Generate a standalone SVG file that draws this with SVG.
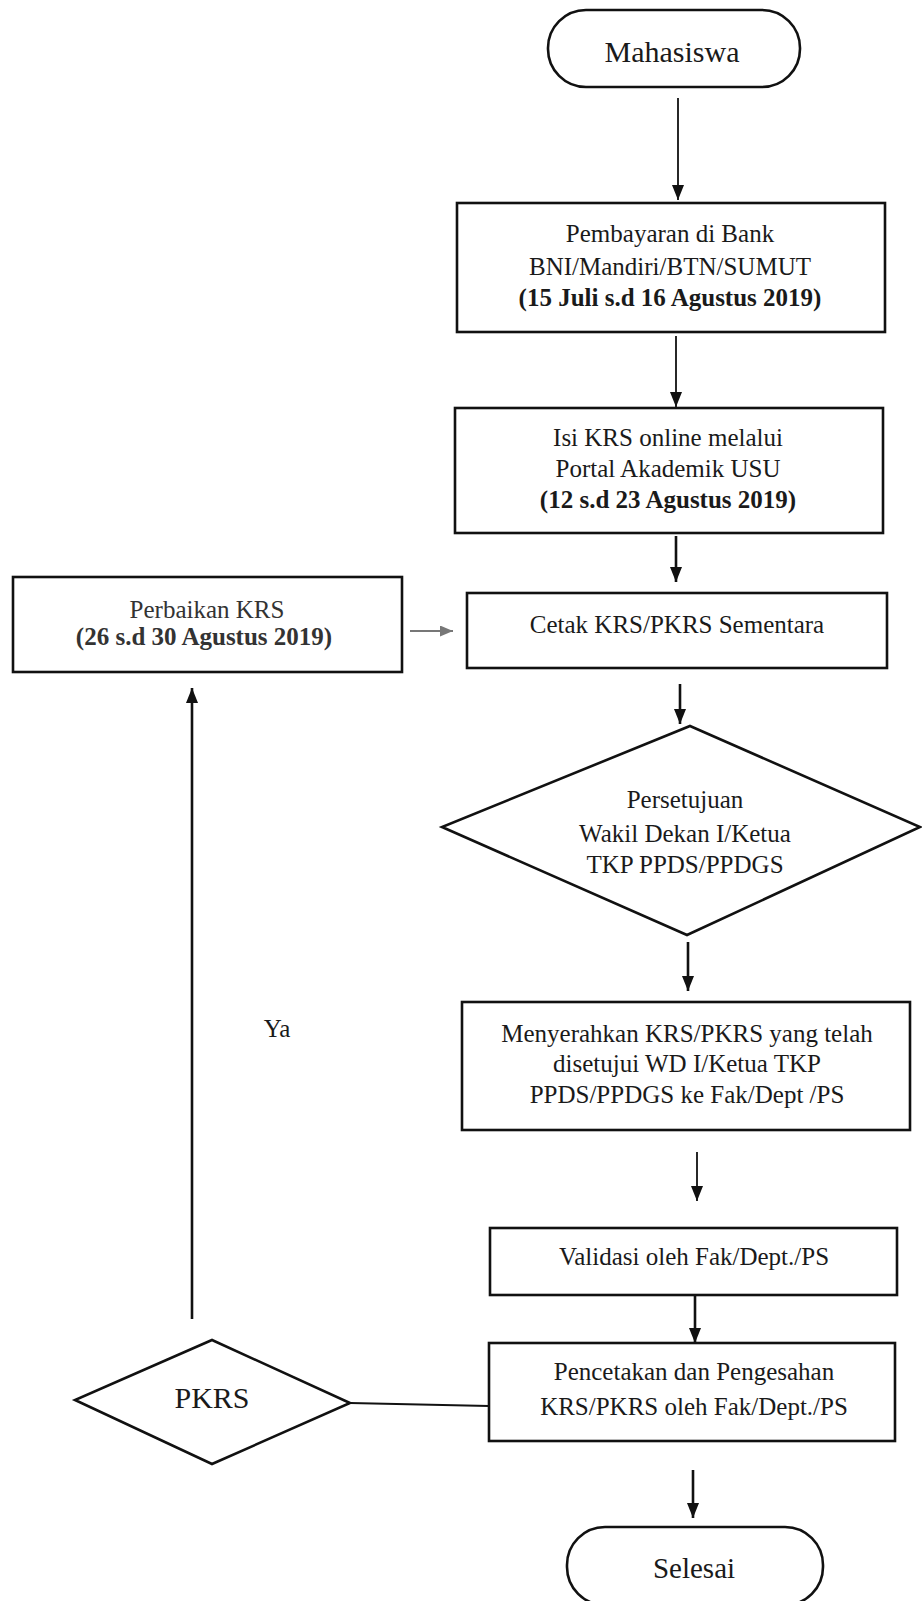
<svg xmlns="http://www.w3.org/2000/svg" width="922" height="1601" viewBox="0 0 922 1601">
<style>
.box{fill:#fff;stroke:#111;stroke-width:2.6}
.t{font-family:"Liberation Serif","Times New Roman",serif;font-size:25px;fill:#1a1a1a;text-anchor:middle}
.b{font-weight:bold}
.big{font-size:30px}
.ln{fill:none;stroke:#111;stroke-width:1.8}
.thick{stroke-width:2.6}
.gray{stroke:#777;stroke-width:2}
</style>
<defs>
<marker id="ah" markerUnits="userSpaceOnUse" markerWidth="15" markerHeight="12" viewBox="0 0 15 12" refX="15" refY="6" orient="auto">
<path d="M0,0 L15,6 L0,12 z" fill="#111"/>
</marker>
<marker id="ahg" markerUnits="userSpaceOnUse" markerWidth="13" markerHeight="11" viewBox="0 0 13 11" refX="13" refY="5.5" orient="auto">
<path d="M0,0 L13,5.5 L0,11 z" fill="#777"/>
</marker>
</defs>
<rect width="922" height="1601" fill="#fff"/>

<g id="connectors">
<line class="ln" x1="678" y1="98" x2="678" y2="200" marker-end="url(#ah)"/>
<line class="ln" x1="676" y1="336" x2="676" y2="407" marker-end="url(#ah)"/>
<line class="ln thick" x1="676" y1="536" x2="676" y2="582" marker-end="url(#ah)"/>
<line class="ln thick" x1="680" y1="684" x2="680" y2="724" marker-end="url(#ah)"/>
<line class="ln thick" x1="688" y1="942" x2="688" y2="991" marker-end="url(#ah)"/>
<line class="ln" x1="697" y1="1152" x2="697" y2="1201" marker-end="url(#ah)"/>
<line class="ln thick" x1="695" y1="1296" x2="695" y2="1343" marker-end="url(#ah)"/>
<line class="ln thick" x1="693" y1="1470" x2="693" y2="1518" marker-end="url(#ah)"/>
<line class="ln gray" x1="410" y1="631" x2="453" y2="631" marker-end="url(#ahg)"/>
<line class="ln thick" x1="192" y1="1319" x2="192" y2="688" marker-end="url(#ah)"/>
<line class="ln" x1="350" y1="1403" x2="489" y2="1406"/>
<text class="t" x="277" y="1037">Ya</text>
</g>

<g id="mahasiswa">
<rect class="box" x="548" y="10" width="252" height="77" rx="38" ry="38"/>
<text class="t big" x="672" y="62">Mahasiswa</text>
</g>

<g id="pembayaran">
<rect class="box" x="457" y="203" width="428" height="129"/>
<text class="t" x="670" y="242">Pembayaran di Bank</text>
<text class="t" x="670" y="275">BNI/Mandiri/BTN/SUMUT</text>
<text class="t b" x="670" y="306">(15 Juli s.d 16 Agustus 2019)</text>
</g>

<g id="isi-krs">
<rect class="box" x="455" y="408" width="428" height="125"/>
<text class="t" x="668" y="446">Isi KRS online melalui</text>
<text class="t" x="668" y="477">Portal Akademik USU</text>
<text class="t b" x="668" y="508">(12 s.d 23 Agustus 2019)</text>
</g>

<g id="cetak">
<rect class="box" x="467" y="593" width="420" height="75"/>
<text class="t" x="677" y="633">Cetak KRS/PKRS Sementara</text>
</g>

<g id="perbaikan">
<rect class="box" x="13" y="577" width="389" height="95"/>
<text class="t" x="207" y="618" style="fill:#333">Perbaikan KRS</text>
<text class="t b" x="204" y="645" style="fill:#333">(26 s.d 30 Agustus 2019)</text>
</g>

<g id="persetujuan">
<polygon class="box" points="690,726 920,827 687,935 442,827"/>
<text class="t" x="685" y="808">Persetujuan</text>
<text class="t" x="685" y="842">Wakil Dekan I/Ketua</text>
<text class="t" x="685" y="873">TKP PPDS/PPDGS</text>
</g>

<g id="menyerahkan">
<rect class="box" x="462" y="1002" width="448" height="128"/>
<text class="t" x="687" y="1042">Menyerahkan KRS/PKRS yang telah</text>
<text class="t" x="687" y="1072">disetujui WD I/Ketua TKP</text>
<text class="t" x="687" y="1103">PPDS/PPDGS ke Fak/Dept /PS</text>
</g>

<g id="validasi">
<rect class="box" x="490" y="1228" width="407" height="67"/>
<text class="t" x="694" y="1265">Validasi oleh Fak/Dept./PS</text>
</g>

<g id="pencetakan">
<rect class="box" x="489" y="1343" width="406" height="98"/>
<text class="t" x="694" y="1380">Pencetakan dan Pengesahan</text>
<text class="t" x="694" y="1415">KRS/PKRS oleh Fak/Dept./PS</text>
</g>

<g id="pkrs">
<polygon class="box" points="212,1340 350,1403 212,1464 75,1400"/>
<text class="t big" x="212" y="1408">PKRS</text>
</g>

<g id="selesai">
<rect class="box" x="567" y="1527" width="256" height="78" rx="38" ry="38"/>
<text class="t" x="694" y="1578" style="font-size:29px">Selesai</text>
</g>
</svg>
